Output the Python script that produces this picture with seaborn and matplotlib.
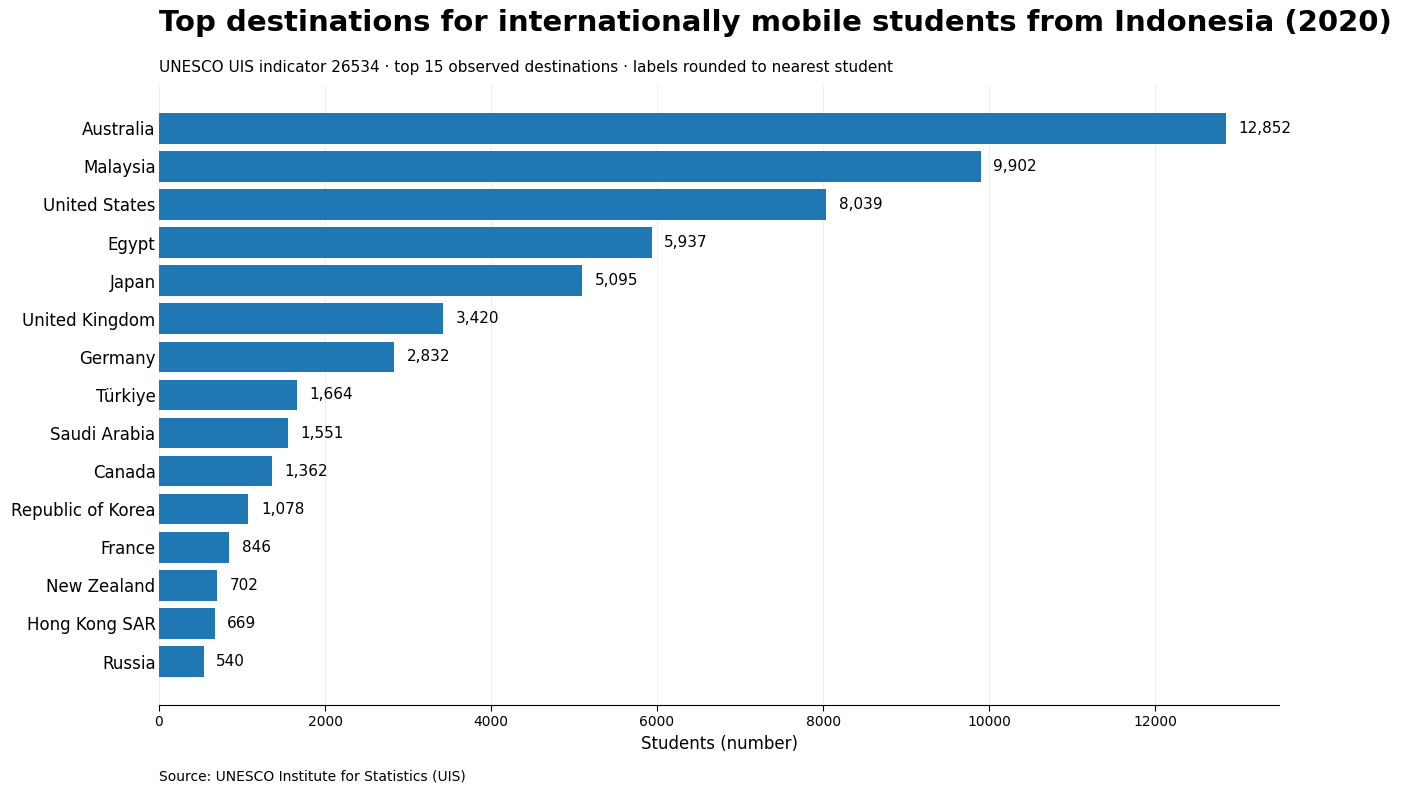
import matplotlib
matplotlib.use("Agg")
import matplotlib.pyplot as plt
import pandas as pd
import seaborn as sns

# Data
countries = ["Australia", "Malaysia", "United States", "Egypt", "Japan",
             "United Kingdom", "Germany", "Türkiye", "Saudi Arabia", "Canada",
             "Republic of Korea", "France", "New Zealand", "Hong Kong SAR", "Russia"]
students = [12852, 9902, 8039, 5937, 5095, 3420, 2832, 1664, 1551, 1362,
            1078, 846, 702, 669, 540]

df = pd.DataFrame({"country": countries, "students": students})

sns.set_style("white")
plt.rcParams["font.family"] = ["DejaVu Sans"]
plt.rcParams.update({"text.color": "black", "axes.labelcolor": "black",
                     "xtick.color": "black", "ytick.color": "black"})

fig = plt.figure(figsize=(14.02, 7.93), dpi=100)
ax = fig.add_axes([0.1134, 0.111, 0.799, 0.782])

sns.barplot(data=df, x="students", y="country", color="#1f77b4",
            saturation=1, orient="h", ax=ax, width=0.8, linewidth=0)

ax.bar_label(ax.containers[0], labels=[f"{v:,}" for v in students],
             padding=9, fontsize=11)

ax.set_xlim(0, max(students) * 1.05)
# default matplotlib-style margins around the bars
n = len(countries)
pad = 0.05 * (n - 1 + 0.8)
ax.set_ylim(n - 1 + 0.4 + pad, -0.4 - pad)
ax.set_xlabel("Students (number)", fontsize=12)
ax.set_ylabel("")
ax.tick_params(axis="y", labelsize=12, length=0, pad=2.5)
ax.tick_params(axis="x", labelsize=10, length=4, bottom=True)
ax.xaxis.grid(True, color="#efefef", linewidth=0.8)
ax.set_axisbelow(True)
for side in ["top", "right", "left"]:
    ax.spines[side].set_visible(False)
ax.spines["bottom"].set_color("black")

fig.text(0.1134, 0.971, "Top destinations for internationally mobile students from Indonesia (2020)",
         fontsize=21, fontweight="bold", ha="left", va="center")
fig.text(0.1134, 0.915, "UNESCO UIS indicator 26534 · top 15 observed destinations · labels rounded to nearest student",
         fontsize=11, ha="left", va="center")
fig.text(0.1134, 0.021, "Source: UNESCO Institute for Statistics (UIS)",
         fontsize=10, ha="left", va="center")

fig.savefig("out.png", dpi=100)
